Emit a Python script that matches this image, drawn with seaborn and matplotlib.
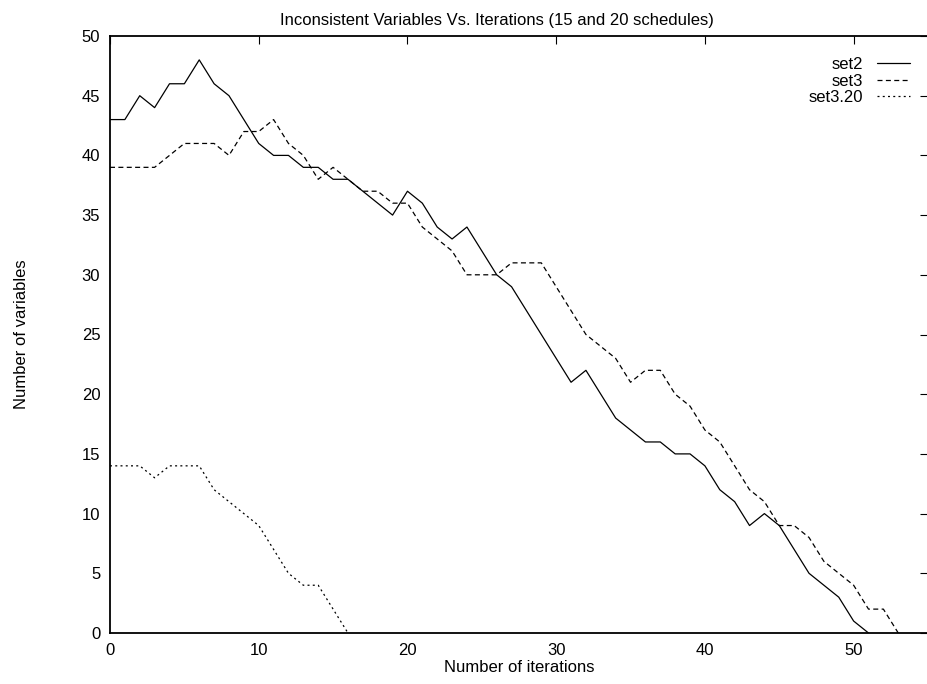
import matplotlib
matplotlib.use("Agg")
import matplotlib.pyplot as plt
import seaborn as sns

# data
set2 = [43, 43, 45, 44, 46, 46, 48, 46, 45, 43, 41, 40, 40, 39, 39, 38, 38, 37, 36, 35,
        37, 36, 34, 33, 34, 32, 30, 29, 27, 25, 23, 21, 22, 20, 18, 17, 16, 16, 15, 15,
        14, 12, 11, 9, 10, 9, 7, 5, 4, 3, 1, 0]
set3 = [39, 39, 39, 39, 40, 41, 41, 41, 40, 42, 42, 43, 41, 40, 38, 39, 38, 37, 37, 36,
        36, 34, 33, 32, 30, 30, 30, 31, 31, 31, 29, 27, 25, 24, 23, 21, 22, 22, 20, 19,
        17, 16, 14, 12, 11, 9, 9, 8, 6, 5, 4, 2, 2, 0]
set3_20 = [14, 14, 14, 13, 14, 14, 14, 12, 11, 10, 9, 7, 5, 4, 4, 2, 0]

series_names = ["set2", "set3", "set3.20"]
x_ticks = [0, 10, 20, 30, 40, 50]
y_ticks = [0, 5, 10, 15, 20, 25, 30, 35, 40, 45, 50]

sns.set_theme(style="white")
plt.rcParams['font.family'] = ['Liberation Sans', 'DejaVu Sans']
plt.rcParams['font.size'] = 12
plt.rcParams['text.color'] = 'black'
plt.rcParams['axes.labelcolor'] = 'black'

fig = plt.figure(figsize=(9.27, 6.84), dpi=100)
ax = fig.add_axes([110 / 927, 51 / 684, 818 / 927, 597 / 684])

lw = 0.9
styles = ["-", (0, (4, 2.7)), (0, (1.6, 2.6))]
for name, vals, ls in zip(series_names, [set2, set3, set3_20], styles):
    sns.lineplot(x=list(range(len(vals))), y=vals, ax=ax, color="black",
                 linewidth=lw, linestyle=ls, label=name)

ax.set_xlim(0, 55)
ax.set_ylim(0, 50)
ax.set_xticks(x_ticks)
ax.set_yticks(y_ticks)
ax.tick_params(direction="in", length=5.8, width=0.8, pad=7, labelsize=12,
               top=True, right=True, colors="black")

for side in ["left", "bottom", "top"]:
    ax.spines[side].set_linewidth(1.3)
    ax.spines[side].set_color("black")
ax.spines["right"].set_visible(False)

ax.set_title("Inconsistent Variables Vs. Iterations (15 and 20 schedules)",
             fontsize=12, x=(496 - 110) / 817, pad=8, color="black")
ax.set_xlabel("Number of iterations", fontsize=12, labelpad=2)
ax.set_ylabel("Number of variables", fontsize=12)
ax.yaxis.set_label_coords(-0.099, 0.5)

leg = ax.legend(loc="upper right", bbox_to_anchor=(0.978, 0.965), frameon=False,
                markerfirst=False, handlelength=2.0, handletextpad=0.8,
                labelspacing=0.1, borderpad=0, borderaxespad=0, fontsize=12)
for t in leg.get_texts():
    t.set_color("black")

fig.savefig("out.png", dpi=100)
